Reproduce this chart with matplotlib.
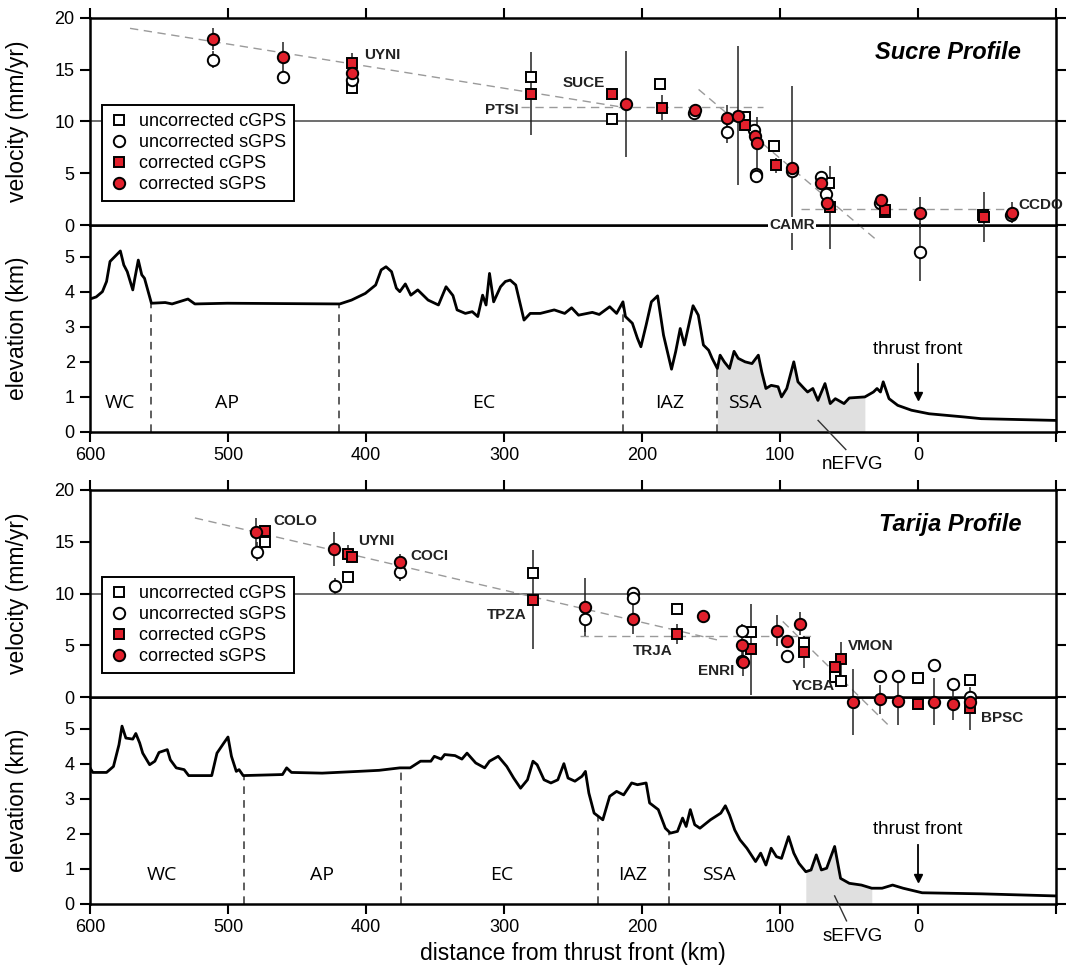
import numpy as np
import matplotlib
matplotlib.use('Agg')
import matplotlib.pyplot as plt
from matplotlib.lines import Line2D

plt.rcParams['font.family'] = ['Liberation Sans', 'DejaVu Sans']

RED = '#e2202c'

# ---- Sucre profile, GPS velocities (distance km, velocity mm/yr, error) ----
suc_ucg_d = [410.5, 280.5, 222, 186.7, 125.3, 104, 64.4, 24.2, -47]
suc_ucg_v = [13.2, 14.3, 10.2, 13.65, 10.4, 7.65, 4.1, 1.3, 1.0]
suc_ucg_e = [0, 0, 0, 0, 0, 0, 0, 0, 0]

suc_usg_d = [511, 460.5, 410.5, 162.5, 138.4, 119, 117.6, 117.4, 91.5, 70.4, 67, 27.7, -1.8, -67.5]
suc_usg_v = [15.97, 14.3, 14.0, 10.8, 9.0, 9.2, 4.95, 4.75, 5.25, 4.6, 3.0, 2.1, -2.6, 0.95]
suc_usg_e = [0.8, 0, 0, 0, 1.1, 0, 0, 0, 0, 0, 0, 0, 2.8, 0]

suc_ccg_d = [410.5, 280.5, 221.4, 185.7, 125.3, 103, 63.7, 24.2, -47.8]
suc_ccg_v = [15.65, 12.7, 12.65, 11.35, 9.7, 5.75, 1.7, 1.45, 0.75]
suc_ccg_e = [1.0, 4.0, 0, 1.2, 0, 0.7, 4.0, 0, 2.4]

suc_csg_d = [511, 460.5, 410.5, 211.3, 161.8, 138.4, 130.3, 118.2, 117, 91.5, 70, 66.2, 26.7, -1.8, -68]
suc_csg_v = [17.97, 16.2, 14.7, 11.7, 11.1, 10.3, 10.55, 8.6, 7.9, 5.5, 4.1, 2.1, 2.4, 1.2, 1.2]
suc_csg_e = [1.1, 1.5, 0, 5.1, 0.4, 1.3, 6.7, 0, 2.5, 7.9, 0, 0, 0, 1.5, 1.0]

suc_trend_d = [[571, 215], [288, 112], [159, 30], [85, -76]]
suc_trend_v = [[19.0, 11.4], [11.4, 11.4], [13.1, -1.45], [1.5, 1.5]]

suc_stations = ['UYNI', 'PTSI', 'SUCE', 'CAMR', 'CCDO']

# ---- Tarija profile, GPS velocities ----
tar_ucg_d = [473, 413, 279.3, 174.9, 120.9, 82.7, 60, 55.5, 0.2, -37.7]
tar_ucg_v = [15.0, 11.6, 12.0, 8.5, 6.3, 5.25, 1.95, 1.5, 1.8, 1.65]
tar_ucg_e = [0, 0, 0, 0, 0, 0, 0, 0, 0, 0]

tar_usg_d = [479, 422.5, 375.5, 241, 206.5, 206.5, 127.4, 127.2, 95.2, 27.5, 14.7, -11.8, -25.6, -37.7]
tar_usg_v = [14.05, 10.75, 12.1, 7.5, 10.05, 9.6, 6.4, 3.5, 3.95, 2.0, 2.0, 3.1, 1.3, 0.0]
tar_usg_e = [0.9, 0.75, 0.9, 1.2, 0, 0, 0.7, 0, 0, 0, 0, 0, 0, 0]

tar_ccg_d = [473, 413, 410.5, 279.3, 174.9, 120.9, 82.7, 55.5, 60, 0.2, -37.7]
tar_ccg_v = [16.0, 13.85, 13.5, 9.4, 6.1, 4.6, 4.35, 3.7, 2.9, -0.7, -1.1]
tar_ccg_e = [0, 0.8, 0, 4.8, 1.0, 4.4, 1.5, 1.6, 0, 0, 2.1]

tar_csg_d = [480, 423, 375.5, 241, 206.5, 156, 127.4, 127.1, 102, 95.2, 85.7, 47.3, 27.5, 14.7, -11.8, -25.6, -37.7]
tar_csg_v = [15.9, 14.3, 13.0, 8.7, 7.5, 7.8, 5.0, 3.4, 6.4, 5.4, 7.1, -0.45, -0.2, -0.35, -0.45, -0.67, -0.45]
tar_csg_e = [1.4, 1.6, 0.8, 2.8, 1.4, 0.5, 1.8, 1.4, 1.5, 0, 1.1, 3.2, 1.4, 2.4, 2.3, 1.6, 0]

tar_trend_d = [[524, 145], [245, 75], [98, 22]]
tar_trend_v = [[17.3, 5.5], [5.9, 5.9], [7.3, -2.65]]

tar_stations = ['COLO', 'UYNI', 'COCI', 'TPZA', 'TRJA', 'ENRI', 'VMON', 'YCBA', 'BPSC']

# ---- topography ----
suc_topo_d = [600, 595.5, 591, 588, 585.5, 582, 578, 575.5, 573, 569, 567.5, 565, 562.5, 560.5, 555.5,
              545.5, 540.5, 529, 524, 500.5, 419, 410.5, 400.5, 393, 389, 385.5, 381.5, 378, 375.5,
              371.5, 367.5, 362.5, 355, 347.5, 342, 337, 334, 328, 323, 319, 315.5, 313, 310.5, 307.5,
              302.5, 299, 295.5, 291.5, 285.5, 281, 273.7, 263.6, 256, 251, 246, 236, 231, 223.4,
              218.4, 213.8, 212, 207, 203.3, 200.8, 197, 193.2, 188.7, 184.4, 178.6, 175.6, 172.3,
              169.3, 163, 159.2, 155.5, 151.7, 149.2, 145.4, 143.4, 140.4, 136.6, 133.3, 130.3, 125.3,
              120.3, 115.7, 113.2, 110.2, 106.4, 101.4, 98.9, 95.1, 90, 87, 82.5, 80, 76.2, 72.5, 67.4,
              63.6, 59.9, 53.6, 49.8, 38.5, 32.3, 29.7, 27.2, 25.2, 21, 14.7, 4.7, -8, -33, -45.8, -100]
suc_topo_e = [3.79, 3.85, 4.0, 4.29, 4.86, 5.0, 5.16, 4.76, 4.57, 4.05, 4.38, 4.9, 4.48, 4.38, 3.67,
              3.69, 3.65, 3.79, 3.65, 3.67, 3.65, 3.76, 3.95, 4.19, 4.62, 4.71, 4.57, 4.1, 4.0,
              4.22, 3.9, 4.05, 3.76, 3.62, 4.14, 3.89, 3.48, 3.38, 3.43, 3.29, 3.9, 3.62, 4.52, 3.71,
              4.14, 4.29, 4.33, 4.19, 3.19, 3.38, 3.38, 3.48, 3.38, 3.54, 3.33, 3.41, 3.35, 3.57,
              3.38, 3.71, 3.29, 3.1, 2.67, 2.43, 3.05, 3.71, 3.88, 2.76, 1.79, 2.29, 2.95,
              2.48, 3.6, 3.33, 2.48, 2.33, 2.1, 1.81, 2.19, 2.0, 1.81, 2.3, 2.1, 2.0,
              1.95, 2.19, 1.71, 1.24, 1.33, 1.29, 1.0, 1.24, 2.0, 1.43, 1.24, 1.14, 1.24, 0.9, 1.38,
              0.81, 0.95, 0.81, 0.97, 1.0, 1.14, 1.24, 1.14, 1.43, 0.95, 0.76, 0.62, 0.52, 0.43, 0.38, 0.33]
suc_bounds = [555.5, 419.25, 213.8, 145.9]
suc_regions = [('WC', 578), ('AP', 500.5), ('EC', 315), ('IAZ', 180), ('SSA', 125.3)]
suc_efvg = (145.9, 38.5)

tar_topo_d = [600, 598, 588, 583, 579, 576.8, 574, 569, 566.8, 564, 561.8, 556.8, 553, 550, 544, 541.8,
              537.5, 531.8, 528.5, 511.8, 508, 503, 500, 497.5, 494, 492, 489, 460.5, 457.5, 454,
              431.8, 405.5, 390.5, 375.5, 368, 360.5, 353, 350.5, 345.5, 343, 335.5, 330.5, 326.8,
              320.5, 314, 310.5, 304.2, 298, 293, 288, 283, 279, 276, 271, 266, 261, 256.6, 253.6,
              248.6, 243.5, 241, 238.5, 234.7, 228.4, 223.4, 218.4, 213.3, 207.5, 203.3, 197, 194.5,
              188.2, 183.1, 179.4, 174.3, 170.6, 168, 165, 161.8, 158, 150.4, 142.9, 139.6, 136.6,
              132.8, 129, 124, 117.7, 114, 110.2, 106.4, 102.6, 98.9, 93.8, 90, 86.3, 81.3, 77.5,
              73.7, 70, 66.2, 63.6, 60.4, 56.1, 49.8, 41, 33.5, 26, 18.4, 10.8, -3, -45.8, -100]
tar_topo_e = [3.88, 3.75, 3.75, 3.92, 4.54, 5.07, 4.73, 4.7, 4.86, 4.59, 4.3, 3.97, 4.07, 4.32, 4.4, 4.11,
              3.88, 3.83, 3.66, 3.66, 4.3, 4.59, 4.76, 4.21, 3.78, 3.83, 3.66, 3.69, 3.88, 3.75,
              3.73, 3.78, 3.81, 3.88, 3.88, 4.07, 4.07, 4.21, 4.13, 4.26, 4.23, 4.13, 4.3,
              4.02, 3.88, 4.07, 4.21, 3.92, 3.59, 3.3, 3.54, 4.07, 3.97, 3.54, 3.45, 3.54, 4.0, 3.59,
              3.5, 3.64, 3.78, 3.16, 2.59, 2.4, 3.07, 3.21, 3.11, 3.45, 3.4, 3.45, 2.88,
              2.69, 2.16, 2.02, 2.07, 2.45, 2.21, 2.69, 2.26, 2.16, 2.4, 2.59, 2.8, 2.54,
              2.11, 1.83, 1.59, 1.21, 1.45, 1.11, 1.59, 1.35, 1.3, 1.92, 1.45, 1.16, 0.92, 0.97,
              1.4, 0.97, 1.02, 1.3, 1.64, 0.73, 0.59, 0.54, 0.45, 0.45, 0.54, 0.45, 0.32, 0.29, 0.23]
tar_bounds = [488.75, 375, 232.2, 180.1]
tar_regions = [('WC', 548), ('AP', 431.75), ('EC', 301.75), ('IAZ', 207), ('SSA', 144.2)]
tar_efvg = (86, 28.9)

legend_labels = ['uncorrected cGPS', 'uncorrected sGPS', 'corrected cGPS', 'corrected sGPS']

STYLE = {
    'ucg': dict(marker='s', ms=7.2, mfc='white', mec='k', mew=1.4),
    'usg': dict(marker='o', ms=8.2, mfc='white', mec='k', mew=1.4),
    'ccg': dict(marker='s', ms=7.2, mfc=RED, mec='k', mew=1.4),
    'csg': dict(marker='o', ms=8.2, mfc=RED, mec='k', mew=1.4),
}
ORDER = ['ucg', 'usg', 'ccg', 'csg']

W_FIG, H_FIG = 1074, 974
LEFT, RIGHT = 90, 1056


def add_axes(fig, top, bot):
    return fig.add_axes([LEFT / W_FIG, 1 - bot / H_FIG, (RIGHT - LEFT) / W_FIG, (bot - top) / H_FIG])


def style_axes(ax):
    for s in ax.spines.values():
        s.set_linewidth(1.8)
    ax.tick_params(direction='out', length=7, width=1.5, labelsize=13, pad=4)
    ax.set_xlim(600, -100)
    ax.set_xticks(range(600, -101, -100))


def velocity_panel(ax, series, trend_d, trend_v, labels, title):
    style_axes(ax)
    ax.set_ylim(0, 20)
    ax.set_yticks([0, 5, 10, 15, 20])
    ax.tick_params(top=True, right=True, bottom=False, labelbottom=False)
    ax.axhline(10, color='#555555', lw=1.2, zorder=1)
    for td, tv in zip(trend_d, trend_v):
        ax.plot(td, tv, color='#9a9a9a', lw=1, dashes=(6, 4), clip_on=False, zorder=2)
    for key in ORDER:
        d, v, e = (np.asarray(a, float) for a in series[key])
        m = e > 0
        ax.vlines(d[m], v[m] - e[m], v[m] + e[m], color='#222222', lw=1.1, clip_on=False, zorder=3)
    for i, key in enumerate(ORDER):
        d, v, e = series[key]
        ax.plot(d, v, ls='none', clip_on=False, zorder=4 + i, **STYLE[key])
    for name, x, y, ha, box in labels:
        kw = {}
        if box:
            kw['bbox'] = dict(facecolor='white', edgecolor='none', pad=1)
        ax.text(x, y, name, ha=ha, va='center', fontsize=11, fontweight='bold', color='#222222',
                zorder=10, clip_on=False, **kw)
    ax.text(0.964, 0.835, title, transform=ax.transAxes, ha='right', va='center', fontsize=17,
            fontweight='bold', style='italic')
    handles = [Line2D([], [], ls='none', **STYLE[k]) for k in ORDER]
    leg = ax.legend(handles, legend_labels, loc='upper left', bbox_to_anchor=(0.012, 0.58),
                    borderaxespad=0, fontsize=13, frameon=True, fancybox=False, framealpha=1,
                    edgecolor='k', handlelength=1.0, handletextpad=0.6, labelspacing=0.22,
                    borderpad=0.45)
    leg.get_frame().set_linewidth(1.4)
    ax.set_ylabel('velocity (mm/yr)', fontsize=16.5)
    ax.yaxis.set_label_coords(-0.063, 0.5)
    ax.set_zorder(3)


def elevation_panel(ax, td, te, bounds, regions, efvg, efvg_name, leader, front):
    style_axes(ax)
    ax.set_ylim(0, 5.9)
    ax.set_yticks([0, 1, 2, 3, 4, 5])
    ax.tick_params(top=False, right=True, bottom=True)
    ax.set_xticklabels(['600', '500', '400', '300', '200', '100', '0', ''])
    td = np.asarray(td, float)
    te = np.asarray(te, float)
    ax.fill_between(td, te, 0, where=(td <= efvg[0]) & (td >= efvg[1]), color='#e0e0e0',
                    lw=0, interpolate=True, zorder=1)
    ax.plot(td, te, color='k', lw=2, zorder=3)
    tops = np.interp(bounds, td[::-1], te[::-1])
    ax.vlines(bounds, 0, tops, color='#333333', lw=1.1, linestyles=(0, (5, 4)), zorder=2)
    for name, x in regions:
        ax.text(x, 0.82, name, ha='center', va='center', fontsize=14,
                family=['Open Sans', 'DejaVu Sans'])
    text_y, arrow_top, arrow_tip = front
    ax.text(0, text_y, 'thrust front', ha='center', va='center', fontsize=13.5)
    # arrow: shaft plus a downward head
    ax.plot([0, 0], [arrow_top, arrow_tip + 0.15], color='k', lw=1.3, zorder=4)
    ax.plot([0], [arrow_tip + 0.12], marker='v', ms=6, color='k', mec='k', zorder=4)
    ax.plot(leader[0], leader[1], color='#333333', lw=1, clip_on=False, zorder=4)
    ax.text(47.3, -0.92, efvg_name, ha='center', va='center', fontsize=13.5, clip_on=False)
    ax.set_ylabel('elevation (km)', fontsize=16.5)
    ax.yaxis.set_label_coords(-0.063, 0.5)
    ax.set_zorder(1)


fig = plt.figure(figsize=(W_FIG / 100, H_FIG / 100), dpi=100)

ax1 = add_axes(fig, 18, 225)
ax2 = add_axes(fig, 225, 432)
ax3 = add_axes(fig, 490, 697)
ax4 = add_axes(fig, 697, 904)

suc_series = {'ucg': (suc_ucg_d, suc_ucg_v, suc_ucg_e), 'usg': (suc_usg_d, suc_usg_v, suc_usg_e),
              'ccg': (suc_ccg_d, suc_ccg_v, suc_ccg_e), 'csg': (suc_csg_d, suc_csg_v, suc_csg_e)}
suc_lab = [(suc_stations[0], 401, 16.4, 'left', False), (suc_stations[1], 289, 11.1, 'right', False),
           (suc_stations[2], 242.4, 13.7, 'center', False), (suc_stations[3], 91.3, 0.0, 'center', True),
           (suc_stations[4], -72.5, 1.9, 'left', False)]
velocity_panel(ax1, suc_series, suc_trend_d, suc_trend_v, suc_lab, 'Sucre Profile')
elevation_panel(ax2, suc_topo_d, suc_topo_e, suc_bounds, suc_regions, suc_efvg, 'nEFVG',
                ([72.4, 52.3], [0.33, -0.5]), (2.36, 1.95, 0.92))

tar_series = {'ucg': (tar_ucg_d, tar_ucg_v, tar_ucg_e), 'usg': (tar_usg_d, tar_usg_v, tar_usg_e),
              'ccg': (tar_ccg_d, tar_ccg_v, tar_ccg_e), 'csg': (tar_csg_d, tar_csg_v, tar_csg_e)}
tar_lab = [(tar_stations[0], 467.3, 17.0, 'left', False), (tar_stations[1], 405.5, 15.1, 'left', False),
           (tar_stations[2], 368, 13.6, 'left', False), (tar_stations[3], 283.5, 7.9, 'right', False),
           (tar_stations[4], 192, 4.45, 'center', False), (tar_stations[5], 132.9, 2.5, 'right', False),
           (tar_stations[6], 50.5, 4.9, 'left', False), (tar_stations[7], 60, 1.05, 'right', False),
           (tar_stations[8], -45.5, -2.0, 'left', False)]
velocity_panel(ax3, tar_series, tar_trend_d, tar_trend_v, tar_lab, 'Tarija Profile')
elevation_panel(ax4, tar_topo_d, tar_topo_e, tar_bounds, tar_regions, tar_efvg, 'sEFVG',
                ([60.4, 51.8], [0.23, -0.48]), (2.11, 1.69, 0.62))
ax4.set_xlabel('distance from thrust front (km)', fontsize=16.5, labelpad=4)

fig.savefig('out.png', dpi=100)
